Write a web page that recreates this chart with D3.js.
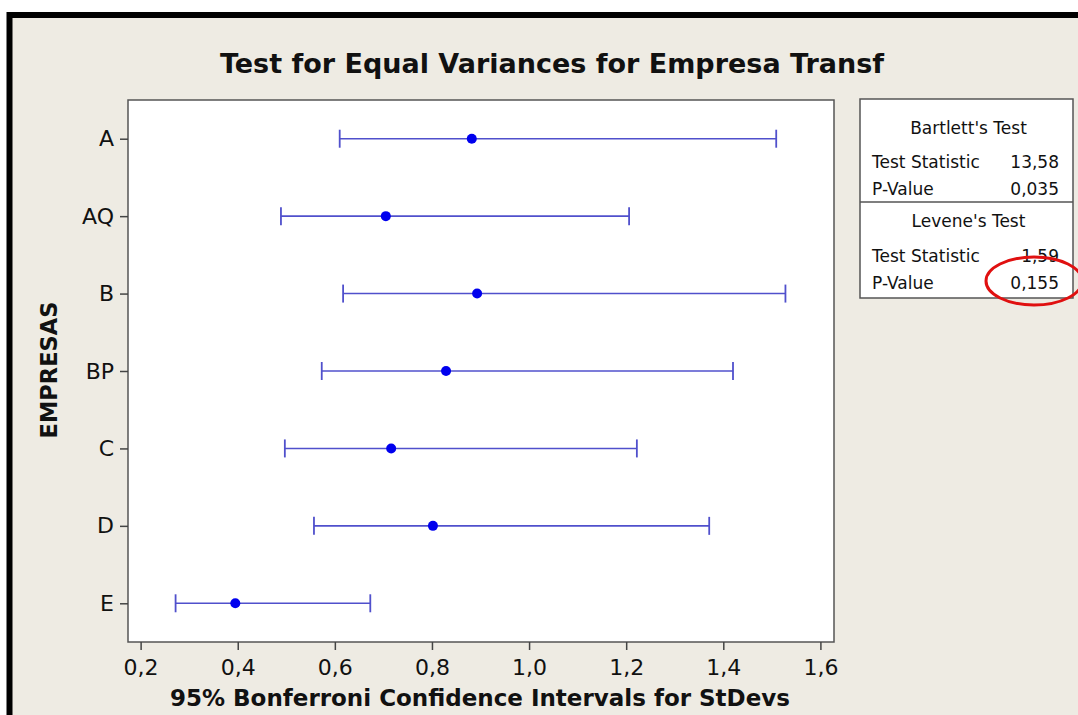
<!DOCTYPE html>
<html>
<head>
<meta charset="utf-8">
<script src="https://cdn.jsdelivr.net/npm/d3@7"></script>
<style>
  html, body { margin: 0; padding: 0; background: #ffffff; }
  svg { display: block; }
  text { font-family: "DejaVu Sans", Verdana, sans-serif; fill: #111; }
</style>
</head>
<body>
<svg id="chart" width="1078" height="715"></svg>
<script>
// Companies and their Bonferroni 95% intervals for the standard deviation
const categories = ["A", "AQ", "B", "BP", "C", "D", "E"];
const lower    = [0.610, 0.489, 0.617, 0.573, 0.497, 0.557, 0.272];
const estimate = [0.882, 0.705, 0.893, 0.829, 0.716, 0.802, 0.395];
const upper    = [1.509, 1.206, 1.528, 1.420, 1.222, 1.371, 0.673];
const xTicks   = [0.2, 0.4, 0.6, 0.8, 1.0, 1.2, 1.4, 1.6];

// Test summary panel
const bartlettRows = [["Test Statistic", "13,58"], ["P-Value", "0,035"]];
const leveneRows   = [["Test Statistic", "1,59"], ["P-Value", "0,155"]];

const svg = d3.select("#chart");
const W = 1078, H = 715;

// background and frame
svg.append("rect").attr("x", 0).attr("y", 0).attr("width", W).attr("height", H).attr("fill", "#ffffff");
svg.append("rect").attr("x", 9.5).attr("y", 15).attr("width", W + 40).attr("height", H + 40)
  .attr("fill", "#eeebe3").attr("stroke", "#000").attr("stroke-width", 6);

const plot = { left: 128, top: 100, right: 834, bottom: 642 };

const x = d3.scaleLinear().domain([0.174, 1.628]).range([plot.left, plot.right]);
const y = d3.scalePoint().domain(categories).range([plot.top, plot.bottom]).padding(0.5);

const commaFmt = d => d3.format(".1f")(d).replace(".", ",");

// plot area
svg.append("rect")
  .attr("x", plot.left).attr("y", plot.top)
  .attr("width", plot.right - plot.left).attr("height", plot.bottom - plot.top)
  .attr("fill", "#ffffff").attr("stroke", "#555").attr("stroke-width", 1.5);

// x axis
const xAxis = svg.append("g")
  .attr("transform", `translate(0,${plot.bottom})`)
  .call(d3.axisBottom(x).tickValues(xTicks).tickFormat(commaFmt).tickSize(8).tickPadding(9));
xAxis.select(".domain").remove();
xAxis.selectAll("line").attr("stroke", "#444").attr("stroke-width", 1.5);
xAxis.selectAll("text").attr("font-size", 22).attr("fill", "#222")
  .attr("font-family", "DejaVu Sans, sans-serif");

// y axis
const yAxis = svg.append("g")
  .attr("transform", `translate(${plot.left},0)`)
  .call(d3.axisLeft(y).tickSize(8).tickPadding(6));
yAxis.select(".domain").remove();
yAxis.selectAll("line").attr("stroke", "#444").attr("stroke-width", 1.5);
yAxis.selectAll("text").attr("font-size", 22).attr("fill", "#222")
  .attr("font-family", "DejaVu Sans, sans-serif");

// interval bars
const rows = categories.map((c, i) => ({ c, lo: lower[i], est: estimate[i], hi: upper[i] }));
const g = svg.append("g");
const capH = 9;
g.selectAll("line.ci").data(rows).join("line")
  .attr("class", "ci")
  .attr("x1", d => x(d.lo)).attr("x2", d => x(d.hi))
  .attr("y1", d => y(d.c)).attr("y2", d => y(d.c))
  .attr("stroke", "#5050cc").attr("stroke-width", 1.6);
g.selectAll("line.lo").data(rows).join("line")
  .attr("class", "lo")
  .attr("x1", d => x(d.lo)).attr("x2", d => x(d.lo))
  .attr("y1", d => y(d.c) - capH).attr("y2", d => y(d.c) + capH)
  .attr("stroke", "#5050cc").attr("stroke-width", 1.8);
g.selectAll("line.hi").data(rows).join("line")
  .attr("class", "hi")
  .attr("x1", d => x(d.hi)).attr("x2", d => x(d.hi))
  .attr("y1", d => y(d.c) - capH).attr("y2", d => y(d.c) + capH)
  .attr("stroke", "#5050cc").attr("stroke-width", 1.8);
g.selectAll("circle").data(rows).join("circle")
  .attr("cx", d => x(d.est)).attr("cy", d => y(d.c)).attr("r", 5)
  .attr("fill", "#0000ee");

// titles
svg.append("text").attr("x", 552).attr("y", 73).attr("text-anchor", "middle")
  .attr("font-size", 27).attr("font-weight", "bold").attr("fill", "#111")
  .text("Test for Equal Variances for Empresa Transf");
svg.append("text").attr("x", 480).attr("y", 706).attr("text-anchor", "middle")
  .attr("font-size", 23).attr("font-weight", "bold").attr("fill", "#111")
  .text("95% Bonferroni Confidence Intervals for StDevs");
svg.append("text").attr("transform", "translate(57,370) rotate(-90)").attr("text-anchor", "middle")
  .attr("font-size", 22.5).attr("font-weight", "bold").attr("fill", "#111")
  .text("EMPRESAS");

// test summary panel
const box = { x: 860, y: 99, w: 213, mid: 202, bottom: 298 };
svg.append("rect").attr("x", box.x).attr("y", box.y).attr("width", box.w).attr("height", box.bottom - box.y)
  .attr("fill", "#ffffff").attr("stroke", "#555").attr("stroke-width", 1.5);
svg.append("line").attr("x1", box.x).attr("x2", box.x + box.w).attr("y1", box.mid).attr("y2", box.mid)
  .attr("stroke", "#555").attr("stroke-width", 1.5);

function panelSection(title, rowsData, titleY, rowY0) {
  svg.append("text").attr("x", box.x + box.w / 2 + 2).attr("y", titleY).attr("text-anchor", "middle")
    .attr("font-size", 17).attr("fill", "#222").text(title);
  rowsData.forEach((r, i) => {
    const yy = rowY0 + i * 26.5;
    svg.append("text").attr("x", box.x + 12).attr("y", yy).attr("font-size", 17).attr("fill", "#222").text(r[0]);
    svg.append("text").attr("x", box.x + box.w - 14).attr("y", yy).attr("text-anchor", "end")
      .attr("font-size", 17).attr("fill", "#222").text(r[1]);
  });
}
panelSection("Bartlett's Test", bartlettRows, 134, 168);
panelSection("Levene's Test", leveneRows, 227, 262);

// highlight around Levene's p-value
svg.append("ellipse").attr("cx", 1034).attr("cy", 281).attr("rx", 48).attr("ry", 24)
  .attr("fill", "none").attr("stroke", "#e01010").attr("stroke-width", 3);
</script>
</body>
</html>
